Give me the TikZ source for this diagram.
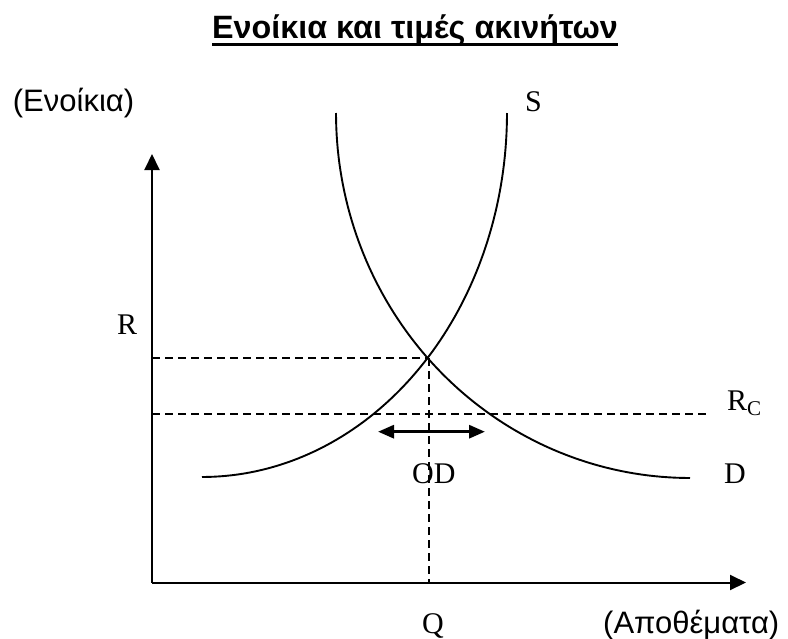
\documentclass[tikz,border=0pt]{standalone}
\usepackage{fontspec}
\setmainfont{Liberation Serif}
\newfontfamily\sansf{Liberation Sans}
\usetikzlibrary{arrows.meta}
\tikzset{
  axisline/.style={line width=2pt, -{Triangle[length=16pt,width=15pt]}},
  curveline/.style={line width=1.9pt},
  guide/.style={line width=1.6pt, dash pattern=on 8pt off 5pt},
  sanslabel/.style={font=\sansf\fontsize{31}{31}\selectfont, inner sep=0pt, anchor=base west},
  seriflabel/.style={font=\fontsize{30}{30}\selectfont, inner sep=0pt, anchor=base west},
  odarrow/.style={line width=3pt, {Triangle[length=16pt,width=13pt]}-{Triangle[length=16pt,width=13pt]}}
}
\begin{document}
\begin{tikzpicture}[x=1pt,y=-1pt]
\useasboundingbox (0,0) rectangle (788,638);
% title
\node[font=\sansf\bfseries\fontsize{32.3}{32}\selectfont, inner sep=0pt, anchor=base west] (title) at (212,38) {Ενοίκια και τιμές ακινήτων};
\draw[line width=3pt] ([yshift=-6pt]title.base west) -- ([yshift=-6pt]title.base east);
% axes
\coordinate (O) at (152,582.5);
\coordinate (ytip) at (152,154);
\coordinate (xtip) at (746,582.5);
\draw[axisline] (O) -- (ytip);
\draw[axisline] (O) -- (xtip);
% curves
\draw[curveline] plot[domain=0:90, samples=80] ({202+305*cos(\x)}, {113+364*sin(\x)});
\draw[curveline] plot[domain=180:90, samples=80] ({690+354*cos(\x)}, {113+365*sin(\x)});
% guides
\coordinate (E) at (429,358);
\coordinate (Raxis) at (152,358);
\coordinate (Qaxis) at (429,582.5);
\coordinate (RcL) at (152,414);
\coordinate (RcR) at (708,414);
\draw[guide] (Raxis) -- (E);
\draw[guide] (E) -- (Qaxis);
\draw[guide] (RcL) -- (RcR);
% OD arrow
\coordinate (odL) at (378,431.7);
\coordinate (odR) at (485,431.7);
\draw[odarrow] (odL) -- (odR);
% labels
\node[sanslabel] (ylab) at (12.7,111.7) {(Ενοίκια)};
\node[sanslabel] (xlab) at (603,633) {(Αποθέματα)};
\node[seriflabel] (S) at (525,111) {S};
\node[seriflabel] (R) at (117,334) {R};
\node[seriflabel] (Rc) at (727,410) {R\textsubscript{C}};
\node[seriflabel] (D) at (724,483) {D};
\node[seriflabel] (OD) at (412,483) {OD};
\node[seriflabel] (Q) at (422,633) {Q};
\end{tikzpicture}
\end{document}
